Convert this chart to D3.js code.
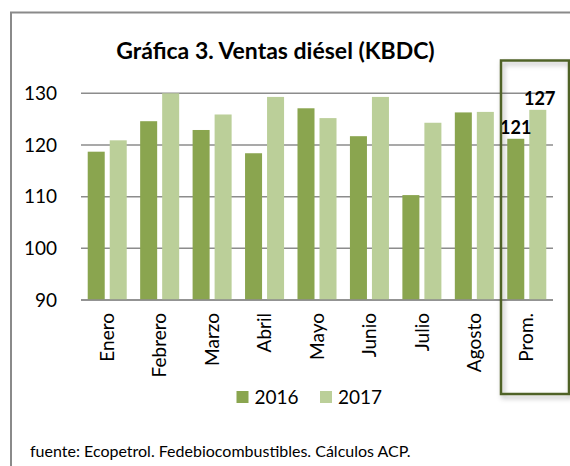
<!DOCTYPE html>
<html>
<head>
<meta charset="utf-8">
<script src="https://cdn.jsdelivr.net/npm/d3@7"></script>
<style>
  body { margin: 0; background: #fff; }
  svg { display: block; font-family: Lato, "Open Sans", sans-serif; }
</style>
</head>
<body>
<div id="chart"></div>
<script>
// Data
var categories = ["Enero", "Febrero", "Marzo", "Abril", "Mayo", "Junio", "Julio", "Agosto", "Prom."];
var seriesNames = ["2016", "2017"];
var values2016 = [118.7, 124.6, 122.9, 118.4, 127.1, 121.7, 110.3, 126.3, 121.2];
var values2017 = [120.9, 130.0, 125.9, 129.3, 125.2, 129.3, 124.3, 126.4, 126.8];
var yTicks = [90, 100, 110, 120, 130];
var promLabels = ["121", "127"];

var colors = {"2016": "#8aa54f", "2017": "#bbcf99"};

var width = 570, height = 466;

var svg = d3.select("#chart").append("svg")
            .attr("width", width)
            .attr("height", height);

var defs = svg.append("defs");
var shadow = defs.append("filter").attr("id", "shadow")
                 .attr("x", "-20%").attr("y", "-10%").attr("width", "150%").attr("height", "130%");
shadow.append("feDropShadow")
      .attr("dx", 2).attr("dy", 3).attr("stdDeviation", 2.5)
      .attr("flood-color", "#000").attr("flood-opacity", 0.3);

// outer frame (runs off the picture to the right and bottom)
svg.append("rect")
   .attr("x", 11).attr("y", 12.5)
   .attr("width", 700).attr("height", 600)
   .attr("fill", "none")
   .attr("stroke", "#8a8a8a")
   .attr("stroke-width", 2);

// title
svg.append("text")
   .attr("x", 275.5).attr("y", 58.5)
   .attr("text-anchor", "middle")
   .style("font-size", "23px")
   .style("font-weight", "bold")
   .text("Gráfica 3. Ventas diésel (KBDC)");

// scales
var x0 = d3.scaleBand().domain(categories).range([81, 553]);
var x1 = d3.scaleBand().domain(seriesNames).range([0, x0.bandwidth()])
           .paddingInner(0.227).paddingOuter(0.305);
var y = d3.scaleLinear().domain([90, 130]).range([300, 93.3]);

// gridlines
svg.append("g").selectAll("line")
   .data(yTicks)
   .enter().append("line")
   .attr("x1", 81).attr("x2", 553)
   .attr("y1", function(d) { return y(d); })
   .attr("y2", function(d) { return y(d); })
   .attr("stroke", "#8c8c8c")
   .attr("stroke-width", 1.5);

// y tick labels
svg.append("g").selectAll("text")
   .data(yTicks)
   .enter().append("text")
   .attr("x", 57)
   .attr("y", function(d) { return y(d); })
   .attr("dy", "0.35em")
   .attr("text-anchor", "end")
   .style("font-size", "19px")
   .text(function(d) { return d; });

// bars
var rows = categories.map(function(c, i) {
  return {cat: c, vals: [{s: "2016", v: values2016[i]}, {s: "2017", v: values2017[i]}]};
});

var groups = svg.append("g").selectAll("g")
                .data(rows)
                .enter().append("g")
                .attr("transform", function(d) { return "translate(" + x0(d.cat) + ",0)"; });

groups.selectAll("rect")
      .data(function(d) { return d.vals; })
      .enter().append("rect")
      .attr("x", function(d) { return x1(d.s); })
      .attr("width", x1.bandwidth())
      .attr("y", function(d) { return y(d.v); })
      .attr("height", function(d) { return y(90) - y(d.v); })
      .attr("fill", function(d) { return colors[d.s]; });

// baseline redrawn over the bars
svg.append("line")
   .attr("x1", 81).attr("x2", 553)
   .attr("y1", y(90)).attr("y2", y(90))
   .attr("stroke", "#8c8c8c")
   .attr("stroke-width", 1.5);

// category labels, rotated
svg.append("g").selectAll("text")
   .data(categories)
   .enter().append("text")
   .attr("transform", function(d) {
     return "translate(" + (x0(d) + x0.bandwidth() / 2) + ",313) rotate(-90)";
   })
   .attr("dy", "0.35em")
   .attr("text-anchor", "end")
   .style("font-size", "19px")
   .text(function(d) { return d; });

// labels on the average bars
var last = categories.length - 1;
svg.append("g").selectAll("text")
   .data(seriesNames)
   .enter().append("text")
   .attr("x", function(d, i) { return x0(categories[last]) + x1(d) + x1.bandwidth() / 2 + i * 2; })
   .attr("y", function(d, i) { return y(i === 0 ? values2016[last] : values2017[last]) - 5; })
   .attr("text-anchor", "middle")
   .style("font-size", "18px")
   .style("font-weight", "bold")
   .text(function(d, i) { return promLabels[i]; });

// highlight box around "Prom."
svg.append("rect")
   .attr("x", 501).attr("y", 60.5)
   .attr("width", 68).attr("height", 333.5)
   .attr("fill", "none")
   .attr("stroke", "#4f6228")
   .attr("stroke-width", 2.5)
   .attr("filter", "url(#shadow)");

// legend
var legend = svg.append("g").selectAll("g")
                .data(seriesNames)
                .enter().append("g")
                .attr("transform", function(d, i) { return "translate(" + (236.5 + i * 83.5) + ",391)"; });
legend.append("rect")
      .attr("width", 12).attr("height", 12)
      .attr("fill", function(d) { return colors[d]; });
legend.append("text")
      .attr("x", 18).attr("y", 12.5)
      .style("font-size", "19px")
      .text(function(d) { return d; });

// source note
svg.append("text")
   .attr("x", 30).attr("y", 456.5)
   .style("font-size", "16px")
   .text("fuente: Ecopetrol. Fedebiocombustibles. Cálculos ACP.");
</script>
</body>
</html>
